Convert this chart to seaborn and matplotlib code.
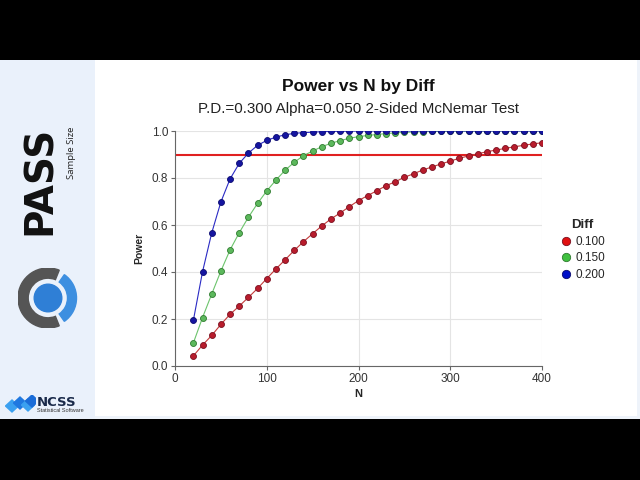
import matplotlib
matplotlib.use("Agg")
import matplotlib.pyplot as plt
from matplotlib.patches import Rectangle, Wedge, Circle, Polygon
from matplotlib.lines import Line2D
import seaborn as sns
import pandas as pd

# ---------------- data ----------------
n_values = list(range(20, 401, 10))
diff_labels = ["0.100", "0.150", "0.200"]
power_d100 = [0.043, 0.089, 0.130, 0.177, 0.220, 0.255, 0.292, 0.330, 0.372, 0.413,
              0.452, 0.492, 0.529, 0.563, 0.596, 0.626, 0.651, 0.678, 0.704, 0.725,
              0.746, 0.767, 0.784, 0.803, 0.818, 0.834, 0.847, 0.860, 0.872, 0.884,
              0.894, 0.903, 0.912, 0.919, 0.926, 0.933, 0.939, 0.945, 0.950]
power_d150 = [0.098, 0.206, 0.306, 0.404, 0.494, 0.567, 0.633, 0.692, 0.745, 0.791,
              0.833, 0.867, 0.895, 0.915, 0.933, 0.948, 0.959, 0.969, 0.976, 0.981,
              0.985, 0.989, 0.992, 0.994, 0.996, 0.997, 0.998, 0.998, 0.999, 0.999,
              0.999, 1.000, 1.000, 1.000, 1.000, 1.000, 1.000, 1.000, 1.000]
power_d200 = [0.194, 0.401, 0.566, 0.698, 0.796, 0.862, 0.906, 0.939, 0.960, 0.974,
              0.984, 0.990, 0.993, 0.995, 0.997, 0.998, 0.999, 0.999, 1.000, 1.000,
              1.000, 1.000, 1.000, 1.000, 1.000, 1.000, 1.000, 1.000, 1.000, 1.000,
              1.000, 1.000, 1.000, 1.000, 1.000, 1.000, 1.000, 1.000, 1.000]
target_power = 0.9
x_ticks = [0, 100, 200, 300, 400]
y_ticks = [0.0, 0.2, 0.4, 0.6, 0.8, 1.0]

title = "Power vs N by Diff"
subtitle = "P.D.=0.300 Alpha=0.050 2-Sided McNemar Test"

df = pd.DataFrame({
    "N": n_values * 3,
    "Power": power_d100 + power_d150 + power_d200,
    "Diff": [diff_labels[0]] * len(n_values) + [diff_labels[1]] * len(n_values) + [diff_labels[2]] * len(n_values),
})

line_colors = {"0.100": "#c43a3a", "0.150": "#6cc46c", "0.200": "#2a2ac4"}
face_colors = ["#b81c2c", "#5cb85c", "#1515a0"]
edge_colors = ["#7a1020", "#2e7a2e", "#0a0a70"]
legend_face = ["#e01010", "#40c040", "#0010c8"]

# ---------------- figure ----------------
sns.set_theme(style="white")
plt.rcParams["font.family"] = ["Liberation Sans", "DejaVu Sans"]

fig = plt.figure(figsize=(6.4, 4.8), dpi=100)
fig.patch.set_facecolor("white")

def px_rect(x0, y0, x1, y1, color):
    fig.patches.append(Rectangle((x0 / 640, 1 - y1 / 480), (x1 - x0) / 640, (y1 - y0) / 480,
                                 transform=fig.transFigure, color=color, zorder=-10, lw=0))

px_rect(0, 0, 640, 60, "black")
px_rect(0, 419, 640, 480, "black")
px_rect(0, 60, 95, 419, "#eaf1fb")
px_rect(637, 60, 640, 419, "#eef3fa")
px_rect(95, 416, 640, 419, "#eef3fa")

# left branding panel
fig.text(40 / 640, 1 - 126 / 480, "PASS", rotation=90, ha="center", va="top",
         fontsize=28, fontweight="bold", family="DejaVu Sans", color="#111111")
fig.text(71 / 640, 1 - 127 / 480, "Sample Size", rotation=90, ha="center", va="top",
         fontsize=6.8, family="Open Sans", color="#222222")

lax = fig.add_axes([18 / 640, 1 - 328 / 480, 60 / 640, 60 / 480])
lax.set_xlim(-1, 1)
lax.set_ylim(-1, 1)
lax.set_aspect("equal")
lax.axis("off")
lax.add_patch(Wedge((0, 0), 1.0, 68, 292, width=0.34, color="#555555"))
lax.add_patch(Wedge((0, 0), 0.95, -55, 55, width=0.30, color="#3d8fe0"))
lax.add_patch(Circle((0, 0), 0.46, color="#2f7fd6"))

nax = fig.add_axes([4 / 640, 1 - 413 / 480, 32 / 640, 18 / 480])
nax.set_xlim(0, 32)
nax.set_ylim(0, 18)
nax.axis("off")
for cx, cy, c in [(8, 7, "#3aa0f0"), (16, 10, "#1f78e0"), (24, 8, "#3aa0f0"), (28, 12, "#1a6cd8")]:
    nax.add_patch(Polygon([(cx - 6.5, cy), (cx, cy + 6), (cx + 6.5, cy), (cx, cy - 6)], color=c))
fig.text(37 / 640, 1 - 402 / 480, "NCSS", ha="left", va="center", fontsize=9.5,
         fontweight="bold", family="DejaVu Sans", color="#1a2a4a")
fig.text(37 / 640, 1 - 411 / 480, "Statistical Software", ha="left", va="center",
         fontsize=4, color="#333333")

# main chart
ax = fig.add_axes([175 / 640, 1 - 366 / 480, (542 - 175) / 640, (366 - 131) / 480])
sns.lineplot(data=df, x="N", y="Power", hue="Diff", palette=line_colors, marker="o",
             markersize=4.3, linewidth=0.8, ax=ax, legend=False, zorder=3)
for i, ln in enumerate(ax.lines[:3]):
    ln.set_markerfacecolor(face_colors[i])
    ln.set_markeredgecolor(edge_colors[i])
    ln.set_markeredgewidth(0.6)
ax.axhline(target_power, color="#e02020", linewidth=1.5, zorder=2)

ax.set_xlim(0, 400)
ax.set_ylim(0, 1.0)
ax.set_xticks(x_ticks)
ax.set_yticks(y_ticks)
ax.set_yticklabels([f"{v:.1f}" for v in y_ticks])
ax.grid(True, color="#e4e4e4", linewidth=0.8, zorder=0)
ax.set_axisbelow(True)
for s in ["top", "right"]:
    ax.spines[s].set_visible(False)
for s in ["left", "bottom"]:
    ax.spines[s].set_color("#666666")
    ax.spines[s].set_linewidth(0.8)
ax.tick_params(axis="both", which="major", direction="out", length=3, width=0.8,
               color="#666666", labelsize=8.5, labelcolor="#333333", pad=2,
               left=True, bottom=True)
ax.set_xlabel("N", fontsize=8, fontweight="bold", labelpad=3)
ax.set_ylabel("Power", fontsize=7.5, fontweight="bold", labelpad=5)

fig.text(358 / 640, 1 - 86 / 480, title, ha="center", va="center", fontsize=12.5,
         fontweight="bold", color="#111111")
fig.text(358 / 640, 1 - 109 / 480, subtitle, ha="center", va="center", fontsize=10.9,
         color="#222222")

handles = [Line2D([], [], linestyle="none", marker="o", markersize=6,
                  markerfacecolor=legend_face[i], markeredgecolor=edge_colors[i],
                  markeredgewidth=0.6) for i in range(3)]
leg = ax.legend(handles, diff_labels, title="Diff", loc="center left",
                bbox_to_anchor=(554 / 640, 1 - 250 / 480), bbox_transform=fig.transFigure,
                frameon=False, handletextpad=0.3, handlelength=1.0, labelspacing=0.4,
                borderpad=0, fontsize=8.5, title_fontproperties={"weight": "bold", "size": 9.5})

fig.savefig("out.png", dpi=100, facecolor="white")
